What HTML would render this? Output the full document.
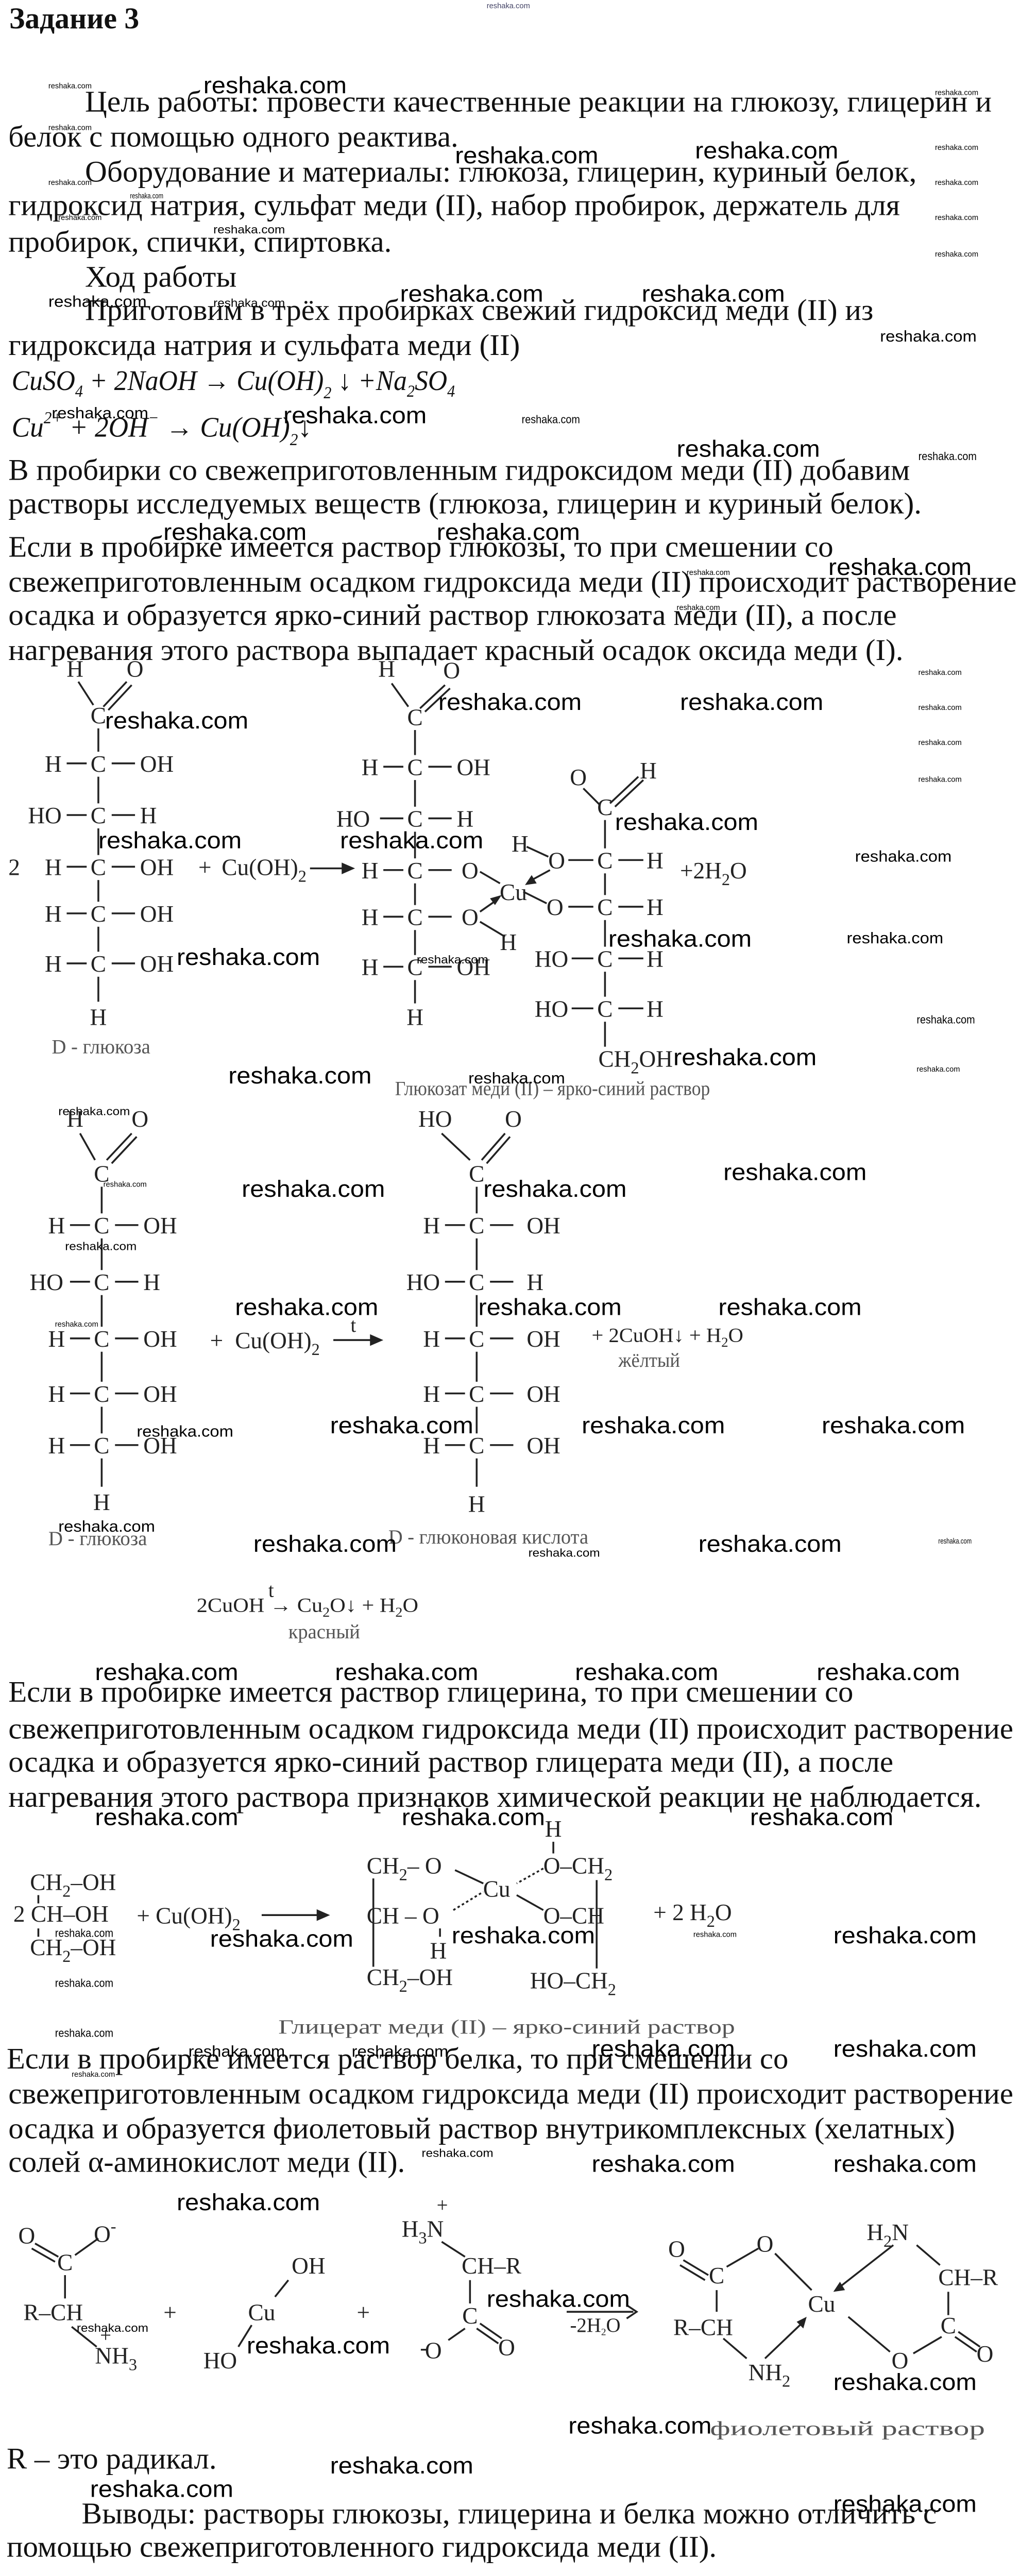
<!DOCTYPE html>
<html><head><meta charset="utf-8">
<style>
html,body{margin:0;padding:0;background:#fff;width:1980px;height:5042px;overflow:hidden;}
svg{display:block;}
.b{font-family:"Liberation Serif",serif;font-size:18px;fill:#111;}
.h{font-family:"Liberation Serif",serif;font-size:18px;font-weight:bold;fill:#111;}
.e{font-family:"Liberation Serif",serif;font-size:17px;font-style:italic;fill:#111;}
.c{font-family:"Liberation Serif",serif;font-size:14px;fill:#222;}
.cs{font-family:"Liberation Serif",serif;font-size:12px;fill:#222;}
.g{font-family:"Liberation Serif",serif;font-size:12px;fill:#555;}
.L{font-family:"Liberation Sans",sans-serif;font-size:14px;fill:#000;}
.M{font-family:"Liberation Sans",sans-serif;font-size:9.5px;fill:#000;}
.S{font-family:"Liberation Sans",sans-serif;font-size:7px;fill:#000;}
.T{font-family:"Liberation Sans",sans-serif;font-size:4.5px;fill:#000;}
line,path{stroke:#222;stroke-width:1.1;fill:none;}
.ah{fill:#222;stroke:none;}
</style></head>
<body>
<svg width="1980" height="5042" viewBox="0 0 612 1558.5" xmlns="http://www.w3.org/2000/svg">
<rect width="612" height="1558.5" fill="#fff"/>
<text x="292" y="5" class="T" textLength="26" lengthAdjust="spacingAndGlyphs" style="fill:#446">reshaka.com</text>
<text x="5.5" y="17" class="h" textLength="78" lengthAdjust="spacingAndGlyphs">Задание 3</text>

<g transform="translate(0,-3)">
<text x="51" y="70" class="b" textLength="544" lengthAdjust="spacingAndGlyphs">Цель работы: провести качественные реакции на глюкозу, глицерин и</text>
<text x="5" y="91" class="b" textLength="270" lengthAdjust="spacingAndGlyphs">белок с помощью одного реактива.</text>
<text x="51" y="112" class="b" textLength="499" lengthAdjust="spacingAndGlyphs">Оборудование и материалы: глюкоза, глицерин, куриный белок,</text>
<text x="5" y="132" class="b" textLength="535" lengthAdjust="spacingAndGlyphs">гидроксид натрия, сульфат меди (II), набор пробирок, держатель для</text>
<text x="5" y="154" class="b" textLength="230" lengthAdjust="spacingAndGlyphs">пробирок, спички, спиртовка.</text>
<text x="51" y="175" class="b" textLength="91" lengthAdjust="spacingAndGlyphs">Ход работы</text>
<text x="51" y="195" class="b" textLength="473" lengthAdjust="spacingAndGlyphs">Приготовим в трёх пробирках свежий гидроксид меди (II) из</text>
<text x="5" y="216" class="b" textLength="307" lengthAdjust="spacingAndGlyphs">гидроксида натрия и сульфата меди (II)</text>
<text x="7" y="237" class="e" textLength="266" lengthAdjust="spacingAndGlyphs">CuSO<tspan font-size="10" dy="4">4</tspan><tspan dy="-4"> + 2NaOH → Cu(OH)</tspan><tspan font-size="10" dy="5">2</tspan><tspan dy="-5"> ↓ +Na</tspan><tspan font-size="10" dy="4">2</tspan><tspan dy="-4">SO</tspan><tspan font-size="10" dy="4">4</tspan></text>
<text x="7" y="265" class="e" textLength="180" lengthAdjust="spacingAndGlyphs">Cu<tspan font-size="10" dy="-8">2+</tspan><tspan dy="8"> + 2OH</tspan><tspan font-size="10" dy="-8">−</tspan><tspan dy="8"> → Cu(OH)</tspan><tspan font-size="10" dy="5">2</tspan><tspan dy="-5">↓</tspan></text>
<text x="5" y="291" class="b" textLength="541" lengthAdjust="spacingAndGlyphs">В пробирки со свежеприготовленным гидроксидом меди (II) добавим</text>
<text x="5" y="311" class="b" textLength="548" lengthAdjust="spacingAndGlyphs">растворы исследуемых веществ (глюкоза, глицерин и куриный белок).</text>
<text x="5" y="337" class="b" textLength="495" lengthAdjust="spacingAndGlyphs">Если в пробирке имеется раствор глюкозы, то при смешении со</text>
<text x="5" y="358" class="b" textLength="605" lengthAdjust="spacingAndGlyphs">свежеприготовленным осадком гидроксида меди (II) происходит растворение</text>
<text x="5" y="378" class="b" textLength="533" lengthAdjust="spacingAndGlyphs">осадка и образуется ярко-синий раствор глюкозата меди (II), а после</text>
<text x="5" y="399" class="b" textLength="537" lengthAdjust="spacingAndGlyphs">нагревания этого раствора выпадает красный осадок оксида меди (I).</text>

<text x="122" y="59" class="L" textLength="86" lengthAdjust="spacingAndGlyphs">reshaka.com</text>
<text x="29" y="56" class="T" textLength="26" lengthAdjust="spacingAndGlyphs">reshaka.com</text>
<text x="561" y="60" class="T" textLength="26" lengthAdjust="spacingAndGlyphs">reshaka.com</text>
<text x="29" y="81" class="T" textLength="26" lengthAdjust="spacingAndGlyphs">reshaka.com</text>
<text x="273" y="101" class="L" textLength="86" lengthAdjust="spacingAndGlyphs">reshaka.com</text>
<text x="417" y="98" class="L" textLength="86" lengthAdjust="spacingAndGlyphs">reshaka.com</text>
<text x="561" y="93" class="T" textLength="26" lengthAdjust="spacingAndGlyphs">reshaka.com</text>
<text x="29" y="114" class="T" textLength="26" lengthAdjust="spacingAndGlyphs">reshaka.com</text>
<text x="561" y="114" class="T" textLength="26" lengthAdjust="spacingAndGlyphs">reshaka.com</text>
<text x="78" y="122" class="T" textLength="20" lengthAdjust="spacingAndGlyphs">reshaka.com</text>
<text x="35" y="135" class="T" textLength="26" lengthAdjust="spacingAndGlyphs">reshaka.com</text>
<text x="561" y="135" class="T" textLength="26" lengthAdjust="spacingAndGlyphs">reshaka.com</text>
<text x="128" y="143" class="S" textLength="43" lengthAdjust="spacingAndGlyphs">reshaka.com</text>
<text x="561" y="157" class="T" textLength="26" lengthAdjust="spacingAndGlyphs">reshaka.com</text>
<text x="240" y="184" class="L" textLength="86" lengthAdjust="spacingAndGlyphs">reshaka.com</text>
<text x="385" y="184" class="L" textLength="86" lengthAdjust="spacingAndGlyphs">reshaka.com</text>
<text x="29" y="187" class="M" textLength="59" lengthAdjust="spacingAndGlyphs">reshaka.com</text>
<text x="128" y="187" class="S" textLength="43" lengthAdjust="spacingAndGlyphs">reshaka.com</text>
<text x="528" y="208" class="M" textLength="58" lengthAdjust="spacingAndGlyphs">reshaka.com</text>
<text x="31" y="254" class="M" textLength="58" lengthAdjust="spacingAndGlyphs">reshaka.com</text>
<text x="170" y="257" class="L" textLength="86" lengthAdjust="spacingAndGlyphs">reshaka.com</text>
<text x="313" y="257" class="S" textLength="35" lengthAdjust="spacingAndGlyphs">reshaka.com</text>
<text x="406" y="277" class="L" textLength="86" lengthAdjust="spacingAndGlyphs">reshaka.com</text>
<text x="551" y="279" class="S" textLength="35" lengthAdjust="spacingAndGlyphs">reshaka.com</text>
<text x="98" y="327" class="L" textLength="86" lengthAdjust="spacingAndGlyphs">reshaka.com</text>
<text x="262" y="327" class="L" textLength="86" lengthAdjust="spacingAndGlyphs">reshaka.com</text>
<text x="497" y="348" class="L" textLength="86" lengthAdjust="spacingAndGlyphs">reshaka.com</text>
<text x="412" y="348" class="T" textLength="26" lengthAdjust="spacingAndGlyphs">reshaka.com</text>
<text x="406" y="369" class="T" textLength="26" lengthAdjust="spacingAndGlyphs">reshaka.com</text>
</g>

<g transform="translate(0,-10)">
<text x="45" y="416" class="c" text-anchor="middle">H</text>
<text x="81" y="416" class="c" text-anchor="middle">O</text>
<line x1="47" y1="419" x2="56" y2="433"/>
<line x1="76" y1="419" x2="62" y2="434"/><line x1="79" y1="421" x2="65" y2="436"/>
<text x="59" y="444" class="c" text-anchor="middle">C</text>
<line x1="59" y1="447" x2="59" y2="461"/>
<text x="37" y="473" class="c" text-anchor="end">H</text><line x1="40" y1="468" x2="52" y2="468"/><text x="59" y="473" class="c" text-anchor="middle">C</text><line x1="67" y1="468" x2="81" y2="468"/><text x="84" y="473" class="c">OH</text>
<line x1="59" y1="476" x2="59" y2="492"/>
<text x="37" y="504" class="c" text-anchor="end">HO</text><line x1="40" y1="499" x2="52" y2="499"/><text x="59" y="504" class="c" text-anchor="middle">C</text><line x1="67" y1="499" x2="81" y2="499"/><text x="84" y="504" class="c">H</text>
<line x1="59" y1="507" x2="59" y2="523"/>
<text x="37" y="535" class="c" text-anchor="end">H</text><line x1="40" y1="530" x2="52" y2="530"/><text x="59" y="535" class="c" text-anchor="middle">C</text><line x1="67" y1="530" x2="81" y2="530"/><text x="84" y="535" class="c">OH</text>
<line x1="59" y1="538" x2="59" y2="551"/>
<text x="37" y="563" class="c" text-anchor="end">H</text><line x1="40" y1="558" x2="52" y2="558"/><text x="59" y="563" class="c" text-anchor="middle">C</text><line x1="67" y1="558" x2="81" y2="558"/><text x="84" y="563" class="c">OH</text>
<line x1="59" y1="566" x2="59" y2="581"/>
<text x="37" y="593" class="c" text-anchor="end">H</text><line x1="40" y1="588" x2="52" y2="588"/><text x="59" y="593" class="c" text-anchor="middle">C</text><line x1="67" y1="588" x2="81" y2="588"/><text x="84" y="593" class="c">OH</text>
<line x1="59" y1="596" x2="59" y2="611"/>
<text x="59" y="625" class="c" text-anchor="middle">H</text>
<text x="31" y="642" class="g">D - глюкоза</text>
<text x="5" y="535" class="c">2</text>
<text x="119" y="535" class="c">+</text>
<text x="133" y="535" class="c">Cu(OH)<tspan font-size="10" dy="4">2</tspan></text>
<line x1="186" y1="531" x2="207" y2="531"/><path class="ah" d="M213,531 L205,527.5 L205,534.5 Z"/>

<text x="232" y="416" class="c" text-anchor="middle">H</text>
<text x="271" y="417" class="c" text-anchor="middle">O</text>
<line x1="235" y1="420" x2="245" y2="434"/>
<line x1="267" y1="421" x2="252" y2="435"/><line x1="270" y1="423" x2="255" y2="437"/>
<text x="249" y="445" class="c" text-anchor="middle">C</text>
<line x1="249" y1="448" x2="249" y2="463"/>
<text x="227" y="475" class="c" text-anchor="end">H</text><line x1="230" y1="470" x2="242" y2="470"/><text x="249" y="475" class="c" text-anchor="middle">C</text><line x1="257" y1="470" x2="271" y2="470"/><text x="274" y="475" class="c">OH</text>
<line x1="249" y1="478" x2="249" y2="494"/>
<text x="222" y="506" class="c" text-anchor="end">HO</text><line x1="228" y1="501" x2="242" y2="501"/><text x="249" y="506" class="c" text-anchor="middle">C</text><line x1="257" y1="501" x2="271" y2="501"/><text x="274" y="506" class="c">H</text>
<line x1="249" y1="509" x2="249" y2="525"/>
<text x="227" y="537" class="c" text-anchor="end">H</text><line x1="230" y1="532" x2="242" y2="532"/><text x="249" y="537" class="c" text-anchor="middle">C</text><line x1="257" y1="532" x2="271" y2="532"/><text x="282" y="537" class="c" text-anchor="middle">O</text>
<line x1="249" y1="540" x2="249" y2="553"/>
<text x="227" y="565" class="c" text-anchor="end">H</text><line x1="230" y1="560" x2="242" y2="560"/><text x="249" y="565" class="c" text-anchor="middle">C</text><line x1="257" y1="560" x2="271" y2="560"/><text x="282" y="565" class="c" text-anchor="middle">O</text>
<line x1="249" y1="568" x2="249" y2="583"/>
<text x="227" y="595" class="c" text-anchor="end">H</text><line x1="230" y1="590" x2="242" y2="590"/><text x="249" y="595" class="c" text-anchor="middle">C</text><line x1="257" y1="590" x2="271" y2="590"/><text x="274" y="595" class="c">OH</text>
<line x1="249" y1="598" x2="249" y2="612"/>
<text x="249" y="625" class="c" text-anchor="middle">H</text>
<text x="308" y="550" class="c" text-anchor="middle">Cu</text>
<line x1="288" y1="533" x2="300" y2="540"/>
<line x1="288" y1="563" x2="303" y2="572"/>
<text x="305" y="580" class="c" text-anchor="middle">H</text>
<line x1="288" y1="557" x2="298" y2="550"/><path class="ah" d="M301,547 L294,549 L297,553 Z"/>
<text x="347" y="481" class="c" text-anchor="middle">O</text>
<text x="389" y="477" class="c" text-anchor="middle">H</text>
<line x1="350" y1="483" x2="360" y2="493"/>
<line x1="366" y1="492" x2="383" y2="476"/><line x1="369" y1="494" x2="386" y2="478"/>
<text x="363" y="499" class="c" text-anchor="middle">C</text>
<line x1="363" y1="502" x2="363" y2="519"/>
<text x="312" y="521" class="c" text-anchor="middle">H</text>
<line x1="316" y1="518" x2="329" y2="524"/>
<text x="334" y="531" class="c" text-anchor="middle">O</text><line x1="341" y1="526" x2="356" y2="526"/><text x="363" y="531" class="c" text-anchor="middle">C</text><line x1="371" y1="526" x2="386" y2="526"/><text x="393" y="531" class="c" text-anchor="middle">H</text>
<line x1="330" y1="532" x2="319" y2="538"/><path class="ah" d="M315,541 L322,540 L319,535 Z"/>
<line x1="363" y1="534" x2="363" y2="547"/>
<line x1="314" y1="545" x2="328" y2="552"/>
<text x="333" y="559" class="c" text-anchor="middle">O</text><line x1="341" y1="554" x2="356" y2="554"/><text x="363" y="559" class="c" text-anchor="middle">C</text><line x1="371" y1="554" x2="386" y2="554"/><text x="393" y="559" class="c" text-anchor="middle">H</text>
<line x1="363" y1="562" x2="363" y2="578"/>
<text x="341" y="590" class="c" text-anchor="end">HO</text><line x1="343" y1="585" x2="356" y2="585"/><text x="363" y="590" class="c" text-anchor="middle">C</text><line x1="371" y1="585" x2="386" y2="585"/><text x="393" y="590" class="c" text-anchor="middle">H</text>
<line x1="363" y1="593" x2="363" y2="608"/>
<text x="341" y="620" class="c" text-anchor="end">HO</text><line x1="343" y1="615" x2="356" y2="615"/><text x="363" y="620" class="c" text-anchor="middle">C</text><line x1="371" y1="615" x2="386" y2="615"/><text x="393" y="620" class="c" text-anchor="middle">H</text>
<line x1="363" y1="623" x2="363" y2="638"/>
<text x="359" y="650" class="c">CH<tspan font-size="10" dy="4">2</tspan><tspan dy="-4">OH</tspan></text>
<text x="408" y="537" class="c">+2H<tspan font-size="10" dy="4">2</tspan><tspan dy="-4">O</tspan></text>
<text x="237" y="667" class="g" textLength="189" lengthAdjust="spacingAndGlyphs">Глюкозат меди (II) – ярко-синий раствор</text>

<text x="551" y="415" class="T" textLength="26" lengthAdjust="spacingAndGlyphs">reshaka.com</text>
<text x="263" y="436" class="L" textLength="86" lengthAdjust="spacingAndGlyphs">reshaka.com</text>
<text x="408" y="436" class="L" textLength="86" lengthAdjust="spacingAndGlyphs">reshaka.com</text>
<text x="551" y="436" class="T" textLength="26" lengthAdjust="spacingAndGlyphs">reshaka.com</text>
<text x="63" y="447" class="L" textLength="86" lengthAdjust="spacingAndGlyphs">reshaka.com</text>
<text x="551" y="457" class="T" textLength="26" lengthAdjust="spacingAndGlyphs">reshaka.com</text>
<text x="551" y="479" class="T" textLength="26" lengthAdjust="spacingAndGlyphs">reshaka.com</text>
<text x="369" y="508" class="L" textLength="86" lengthAdjust="spacingAndGlyphs">reshaka.com</text>
<text x="59" y="519" class="L" textLength="86" lengthAdjust="spacingAndGlyphs">reshaka.com</text>
<text x="204" y="519" class="L" textLength="86" lengthAdjust="spacingAndGlyphs">reshaka.com</text>
<text x="513" y="527" class="M" textLength="58" lengthAdjust="spacingAndGlyphs">reshaka.com</text>
<text x="365" y="578" class="L" textLength="86" lengthAdjust="spacingAndGlyphs">reshaka.com</text>
<text x="508" y="576" class="M" textLength="58" lengthAdjust="spacingAndGlyphs">reshaka.com</text>
<text x="106" y="589" class="L" textLength="86" lengthAdjust="spacingAndGlyphs">reshaka.com</text>
<text x="250" y="588" class="S" textLength="43" lengthAdjust="spacingAndGlyphs">reshaka.com</text>
<text x="550" y="624" class="S" textLength="35" lengthAdjust="spacingAndGlyphs">reshaka.com</text>
<text x="404" y="649" class="L" textLength="86" lengthAdjust="spacingAndGlyphs">reshaka.com</text>
<text x="550" y="653" class="T" textLength="26" lengthAdjust="spacingAndGlyphs">reshaka.com</text>
<text x="137" y="660" class="L" textLength="86" lengthAdjust="spacingAndGlyphs">reshaka.com</text>
<text x="281" y="660" class="M" textLength="58" lengthAdjust="spacingAndGlyphs">reshaka.com</text>
<text x="35" y="679" class="S" textLength="43" lengthAdjust="spacingAndGlyphs">reshaka.com</text>
</g>

<g transform="translate(0,-11)">
<text x="45" y="687" class="c" text-anchor="middle">H</text>
<text x="84" y="687" class="c" text-anchor="middle">O</text>
<line x1="48" y1="691" x2="57" y2="707"/>
<line x1="79" y1="691" x2="64" y2="707"/><line x1="82" y1="693" x2="67" y2="709"/>
<text x="61" y="720" class="c" text-anchor="middle">C</text>
<line x1="61" y1="723" x2="61" y2="739"/>
<text x="39" y="751" class="c" text-anchor="end">H</text><line x1="42" y1="746" x2="54" y2="746"/><text x="61" y="751" class="c" text-anchor="middle">C</text><line x1="69" y1="746" x2="83" y2="746"/><text x="86" y="751" class="c">OH</text>
<line x1="61" y1="754" x2="61" y2="773"/>
<text x="38" y="785" class="c" text-anchor="end">HO</text><line x1="42" y1="780" x2="54" y2="780"/><text x="61" y="785" class="c" text-anchor="middle">C</text><line x1="69" y1="780" x2="83" y2="780"/><text x="86" y="785" class="c">H</text>
<line x1="61" y1="788" x2="61" y2="807"/>
<text x="39" y="819" class="c" text-anchor="end">H</text><line x1="42" y1="814" x2="54" y2="814"/><text x="61" y="819" class="c" text-anchor="middle">C</text><line x1="69" y1="814" x2="83" y2="814"/><text x="86" y="819" class="c">OH</text>
<line x1="61" y1="822" x2="61" y2="840"/>
<text x="39" y="852" class="c" text-anchor="end">H</text><line x1="42" y1="847" x2="54" y2="847"/><text x="61" y="852" class="c" text-anchor="middle">C</text><line x1="69" y1="847" x2="83" y2="847"/><text x="86" y="852" class="c">OH</text>
<line x1="61" y1="855" x2="61" y2="871"/>
<text x="39" y="883" class="c" text-anchor="end">H</text><line x1="42" y1="878" x2="54" y2="878"/><text x="61" y="883" class="c" text-anchor="middle">C</text><line x1="69" y1="878" x2="83" y2="878"/><text x="86" y="883" class="c">OH</text>
<line x1="61" y1="886" x2="61" y2="903"/>
<text x="61" y="917" class="c" text-anchor="middle">H</text>
<text x="29" y="938" class="g">D - глюкоза</text>
<text x="126" y="820" class="c">+</text>
<text x="141" y="820" class="c">Cu(OH)<tspan font-size="10" dy="4">2</tspan></text>
<line x1="200" y1="815" x2="224" y2="815"/><path class="ah" d="M230,815 L222,811.5 L222,818.5 Z"/>
<text x="212" y="810" class="cs" text-anchor="middle" font-size="9">t</text>
<text x="251" y="687" class="c">HO</text>
<text x="308" y="687" class="c" text-anchor="middle">O</text>
<line x1="265" y1="691" x2="282" y2="707"/>
<line x1="303" y1="691" x2="289" y2="707"/><line x1="306" y1="693" x2="292" y2="709"/>
<text x="286" y="720" class="c" text-anchor="middle">C</text>
<line x1="286" y1="723" x2="286" y2="739"/>
<text x="264" y="751" class="c" text-anchor="end">H</text><line x1="267" y1="746" x2="279" y2="746"/><text x="286" y="751" class="c" text-anchor="middle">C</text><line x1="294" y1="746" x2="308" y2="746"/><text x="316" y="751" class="c">OH</text>
<line x1="286" y1="754" x2="286" y2="773"/>
<text x="264" y="785" class="c" text-anchor="end">HO</text><line x1="267" y1="780" x2="279" y2="780"/><text x="286" y="785" class="c" text-anchor="middle">C</text><line x1="294" y1="780" x2="308" y2="780"/><text x="316" y="785" class="c">H</text>
<line x1="286" y1="788" x2="286" y2="807"/>
<text x="264" y="819" class="c" text-anchor="end">H</text><line x1="267" y1="814" x2="279" y2="814"/><text x="286" y="819" class="c" text-anchor="middle">C</text><line x1="294" y1="814" x2="308" y2="814"/><text x="316" y="819" class="c">OH</text>
<line x1="286" y1="822" x2="286" y2="840"/>
<text x="264" y="852" class="c" text-anchor="end">H</text><line x1="267" y1="847" x2="279" y2="847"/><text x="286" y="852" class="c" text-anchor="middle">C</text><line x1="294" y1="847" x2="308" y2="847"/><text x="316" y="852" class="c">OH</text>
<line x1="286" y1="855" x2="286" y2="871"/>
<text x="264" y="883" class="c" text-anchor="end">H</text><line x1="267" y1="878" x2="279" y2="878"/><text x="286" y="883" class="c" text-anchor="middle">C</text><line x1="294" y1="878" x2="308" y2="878"/><text x="316" y="883" class="c">OH</text>
<line x1="286" y1="886" x2="286" y2="903"/>
<text x="286" y="918" class="c" text-anchor="middle">H</text>
<text x="233" y="937" class="g" textLength="120" lengthAdjust="spacingAndGlyphs">D - глюконовая кислота</text>
<text x="355" y="816" class="cs" textLength="91" lengthAdjust="spacingAndGlyphs">+ 2CuOH↓ + H<tspan font-size="8" dy="3">2</tspan><tspan dy="-3">O</tspan></text>
<text x="371" y="831" class="g" font-size="10" textLength="37" lengthAdjust="spacingAndGlyphs">жёлтый</text>
<text x="118" y="978" class="cs" textLength="133" lengthAdjust="spacingAndGlyphs">2CuOH <tspan>→</tspan> Cu<tspan font-size="8" dy="3">2</tspan><tspan dy="-3">O↓ + H</tspan><tspan font-size="8" dy="3">2</tspan><tspan dy="-3">O</tspan></text>
<text x="161" y="969" class="cs" font-size="8">t</text>
<text x="173" y="994" class="g" font-size="10" textLength="43" lengthAdjust="spacingAndGlyphs">красный</text>

<text x="62" y="723" class="T" textLength="26" lengthAdjust="spacingAndGlyphs">reshaka.com</text>
<text x="145" y="729" class="L" textLength="86" lengthAdjust="spacingAndGlyphs">reshaka.com</text>
<text x="290" y="729" class="L" textLength="86" lengthAdjust="spacingAndGlyphs">reshaka.com</text>
<text x="434" y="719" class="L" textLength="86" lengthAdjust="spacingAndGlyphs">reshaka.com</text>
<text x="39" y="761" class="S" textLength="43" lengthAdjust="spacingAndGlyphs">reshaka.com</text>
<text x="141" y="800" class="L" textLength="86" lengthAdjust="spacingAndGlyphs">reshaka.com</text>
<text x="287" y="800" class="L" textLength="86" lengthAdjust="spacingAndGlyphs">reshaka.com</text>
<text x="431" y="800" class="L" textLength="86" lengthAdjust="spacingAndGlyphs">reshaka.com</text>
<text x="33" y="807" class="T" textLength="26" lengthAdjust="spacingAndGlyphs">reshaka.com</text>
<text x="82" y="873" class="M" textLength="58" lengthAdjust="spacingAndGlyphs">reshaka.com</text>
<text x="198" y="871" class="L" textLength="86" lengthAdjust="spacingAndGlyphs">reshaka.com</text>
<text x="349" y="871" class="L" textLength="86" lengthAdjust="spacingAndGlyphs">reshaka.com</text>
<text x="493" y="871" class="L" textLength="86" lengthAdjust="spacingAndGlyphs">reshaka.com</text>
<text x="35" y="930" class="M" textLength="58" lengthAdjust="spacingAndGlyphs">reshaka.com</text>
<text x="152" y="942" class="L" textLength="86" lengthAdjust="spacingAndGlyphs">reshaka.com</text>
<text x="317" y="945" class="S" textLength="43" lengthAdjust="spacingAndGlyphs">reshaka.com</text>
<text x="419" y="942" class="L" textLength="86" lengthAdjust="spacingAndGlyphs">reshaka.com</text>
<text x="563" y="937" class="T" textLength="20" lengthAdjust="spacingAndGlyphs">reshaka.com</text>
</g>

<g transform="translate(0,-4)">
<text x="57" y="1012" class="L" textLength="86" lengthAdjust="spacingAndGlyphs">reshaka.com</text>
<text x="201" y="1012" class="L" textLength="86" lengthAdjust="spacingAndGlyphs">reshaka.com</text>
<text x="345" y="1012" class="L" textLength="86" lengthAdjust="spacingAndGlyphs">reshaka.com</text>
<text x="490" y="1012" class="L" textLength="86" lengthAdjust="spacingAndGlyphs">reshaka.com</text>
</g>

<g transform="translate(0,-15)">
<text x="5" y="1036" class="b" textLength="507" lengthAdjust="spacingAndGlyphs">Если в пробирке имеется раствор глицерина, то при смешении со</text>
<text x="5" y="1058" class="b" textLength="603" lengthAdjust="spacingAndGlyphs">свежеприготовленным осадком гидроксида меди (II) происходит растворение</text>
<text x="5" y="1078" class="b" textLength="531" lengthAdjust="spacingAndGlyphs">осадка и образуется ярко-синий раствор глицерата меди (II), а после</text>
<text x="5" y="1099" class="b" textLength="584" lengthAdjust="spacingAndGlyphs">нагревания этого раствора признаков химической реакции не наблюдается.</text>

<text x="18" y="1149" class="c">CH<tspan font-size="10" dy="4">2</tspan><tspan dy="-4">–OH</tspan></text>
<line x1="23" y1="1152" x2="23" y2="1157"/>
<text x="8" y="1168" class="c">2 CH–OH</text>
<line x1="23" y1="1172" x2="23" y2="1177"/>
<text x="18" y="1188" class="c">CH<tspan font-size="10" dy="4">2</tspan><tspan dy="-4">–OH</tspan></text>
<text x="82" y="1169" class="c">+  Cu(OH)<tspan font-size="10" dy="4">2</tspan></text>
<line x1="157" y1="1164" x2="192" y2="1164"/><path class="ah" d="M198,1164 L190,1160.5 L190,1167.5 Z"/>
<text x="220" y="1139" class="c">CH<tspan font-size="10" dy="4">2</tspan><tspan dy="-4">– O</tspan></text>
<text x="220" y="1169" class="c">CH – O</text>
<line x1="264" y1="1172" x2="264" y2="1177"/>
<text x="263" y="1190" class="c" text-anchor="middle">H</text>
<text x="220" y="1206" class="c">CH<tspan font-size="10" dy="4">2</tspan><tspan dy="-4">–OH</tspan></text>
<line x1="224" y1="1142" x2="224" y2="1195"/>
<text x="298" y="1153" class="c" text-anchor="middle">Cu</text>
<line x1="273" y1="1137" x2="290" y2="1145"/>
<line x1="310" y1="1152" x2="326" y2="1161"/>
<path d="M326,1136 L310,1145" stroke-dasharray="1.5,1.5"/>
<path d="M272,1161 L290,1150" stroke-dasharray="1.5,1.5"/>
<text x="332" y="1117" class="c" text-anchor="middle">H</text>
<line x1="332" y1="1120" x2="332" y2="1127"/>
<text x="326" y="1139" class="c">O–CH<tspan font-size="10" dy="4">2</tspan></text>
<text x="326" y="1169" class="c">O–CH</text>
<line x1="358" y1="1143" x2="358" y2="1196"/>
<text x="318" y="1208" class="c">HO–CH<tspan font-size="10" dy="4">2</tspan></text>
<text x="392" y="1167" class="c">+ 2 H<tspan font-size="10" dy="4">2</tspan><tspan dy="-4">O</tspan></text>
<text x="167" y="1235" class="g" font-size="14" textLength="274" lengthAdjust="spacingAndGlyphs">Глицерат меди (II) – ярко-синий раствор</text>

<text x="57" y="1110" class="L" textLength="86" lengthAdjust="spacingAndGlyphs">reshaka.com</text>
<text x="241" y="1110" class="L" textLength="86" lengthAdjust="spacingAndGlyphs">reshaka.com</text>
<text x="450" y="1110" class="L" textLength="86" lengthAdjust="spacingAndGlyphs">reshaka.com</text>
<text x="33" y="1177" class="S" textLength="35" lengthAdjust="spacingAndGlyphs">reshaka.com</text>
<text x="126" y="1183" class="L" textLength="86" lengthAdjust="spacingAndGlyphs">reshaka.com</text>
<text x="271" y="1181" class="L" textLength="86" lengthAdjust="spacingAndGlyphs">reshaka.com</text>
<text x="416" y="1177" class="T" textLength="26" lengthAdjust="spacingAndGlyphs">reshaka.com</text>
<text x="500" y="1181" class="L" textLength="86" lengthAdjust="spacingAndGlyphs">reshaka.com</text>
<text x="33" y="1207" class="S" textLength="35" lengthAdjust="spacingAndGlyphs">reshaka.com</text>
<text x="33" y="1237" class="S" textLength="35" lengthAdjust="spacingAndGlyphs">reshaka.com</text>
</g>

<g transform="translate(0,-21)">
<text x="4" y="1262" class="b" textLength="469" lengthAdjust="spacingAndGlyphs">Если в пробирке имеется раствор белка, то при смешении со</text>
<text x="5" y="1283" class="b" textLength="603" lengthAdjust="spacingAndGlyphs">свежеприготовленным осадком гидроксида меди (II) происходит растворение</text>
<text x="5" y="1304" class="b" textLength="568" lengthAdjust="spacingAndGlyphs">осадка и образуется фиолетовый раствор внутрикомплексных (хелатных)</text>
<text x="5" y="1324" class="b" textLength="238" lengthAdjust="spacingAndGlyphs">солей α-аминокислот меди (II).</text>
<text x="113" y="1255" class="M" textLength="58" lengthAdjust="spacingAndGlyphs">reshaka.com</text>
<text x="211" y="1255" class="M" textLength="58" lengthAdjust="spacingAndGlyphs">reshaka.com</text>
<text x="355" y="1255" class="L" textLength="86" lengthAdjust="spacingAndGlyphs">reshaka.com</text>
<text x="500" y="1255" class="L" textLength="86" lengthAdjust="spacingAndGlyphs">reshaka.com</text>
<text x="43" y="1267" class="T" textLength="26" lengthAdjust="spacingAndGlyphs">reshaka.com</text>
<text x="253" y="1315" class="S" textLength="43" lengthAdjust="spacingAndGlyphs">reshaka.com</text>
<text x="355" y="1324" class="L" textLength="86" lengthAdjust="spacingAndGlyphs">reshaka.com</text>
<text x="500" y="1324" class="L" textLength="86" lengthAdjust="spacingAndGlyphs">reshaka.com</text>
</g>

<g transform="translate(0,-9)">
<text x="106" y="1335" class="L" textLength="86" lengthAdjust="spacingAndGlyphs">reshaka.com</text>
<text x="16" y="1355" class="c" text-anchor="middle">O</text>
<text x="63" y="1354" class="c" text-anchor="middle">O<tspan font-size="10" dy="-6">-</tspan></text>
<line x1="19" y1="1358" x2="33" y2="1366"/><line x1="21" y1="1355" x2="35" y2="1363"/>
<text x="39" y="1371" class="c" text-anchor="middle">C</text>
<line x1="45" y1="1362" x2="59" y2="1352"/>
<line x1="39" y1="1374" x2="39" y2="1388"/>
<text x="14" y="1401" class="c">R–CH</text>
<line x1="43" y1="1405" x2="58" y2="1417"/>
<text x="60" y="1414" class="cs" font-size="10">+</text>
<text x="57" y="1427" class="c">NH<tspan font-size="10" dy="4">3</tspan></text>
<text x="102" y="1401" class="c" text-anchor="middle">+</text>
<text x="175" y="1373" class="c">OH</text>
<line x1="173" y1="1377" x2="165" y2="1387"/>
<text x="157" y="1401" class="c" text-anchor="middle">Cu</text>
<line x1="151" y1="1404" x2="143" y2="1417"/>
<text x="122" y="1430" class="c">HO</text>
<text x="218" y="1401" class="c" text-anchor="middle">+</text>
<text x="262" y="1336" class="cs" font-size="10">+</text>
<text x="241" y="1351" class="c">H<tspan font-size="10" dy="4">3</tspan><tspan dy="-4">N</tspan></text>
<line x1="265" y1="1354" x2="279" y2="1363"/>
<text x="277" y="1373" class="c">CH–R</text>
<line x1="282" y1="1377" x2="282" y2="1391"/>
<text x="282" y="1403" class="c" text-anchor="middle">C</text>
<line x1="279" y1="1406" x2="269" y2="1413"/>
<line x1="286" y1="1406" x2="299" y2="1415"/><line x1="288" y1="1403" x2="301" y2="1412"/>
<text x="252" y="1422" class="c">-</text><text x="260" y="1424" class="c" text-anchor="middle">O</text>
<text x="304" y="1422" class="c" text-anchor="middle">O</text>
<line x1="340" y1="1396" x2="380" y2="1396"/><path d="M376,1392 L382,1396 L376,1400"/>
<text x="342" y="1408" class="cs" font-size="8">-2H<tspan font-size="6" dy="2">2</tspan><tspan dy="-2">O</tspan></text>
<text x="406" y="1363" class="c" text-anchor="middle">O</text>
<line x1="410" y1="1365" x2="425" y2="1374"/><line x1="408" y1="1368" x2="423" y2="1377"/>
<text x="430" y="1379" class="c" text-anchor="middle">C</text>
<line x1="436" y1="1369" x2="455" y2="1358"/>
<text x="459" y="1360" class="c" text-anchor="middle">O</text>
<line x1="465" y1="1361" x2="487" y2="1383"/>
<line x1="430" y1="1383" x2="430" y2="1396"/>
<text x="404" y="1410" class="c">R–CH</text>
<line x1="434" y1="1412" x2="448" y2="1424"/>
<text x="449" y="1437" class="c">NH<tspan font-size="10" dy="4">2</tspan></text>
<line x1="459" y1="1424" x2="481" y2="1403"/><path class="ah" d="M484,1399 L478,1402 L482,1406 Z"/>
<text x="493" y="1396" class="c" text-anchor="middle">Cu</text>
<text x="520" y="1353" class="c">H<tspan font-size="10" dy="4">2</tspan><tspan dy="-4">N</tspan></text>
<line x1="536" y1="1356" x2="504" y2="1381"/><path class="ah" d="M500,1384 L504,1378 L507,1383 Z"/>
<line x1="550" y1="1356" x2="564" y2="1368"/>
<text x="563" y="1380" class="c">CH–R</text>
<line x1="569" y1="1384" x2="569" y2="1398"/>
<text x="569" y="1409" class="c" text-anchor="middle">C</text>
<line x1="573" y1="1411" x2="586" y2="1420"/><line x1="575" y1="1408" x2="588" y2="1417"/>
<text x="591" y="1426" class="c" text-anchor="middle">O</text>
<line x1="565" y1="1411" x2="548" y2="1421"/>
<text x="540" y="1430" class="c" text-anchor="middle">O</text>
<line x1="534" y1="1420" x2="509" y2="1399"/>
<text x="46" y="1408" class="S" textLength="43" lengthAdjust="spacingAndGlyphs">reshaka.com</text>
<text x="292" y="1393" class="L" textLength="86" lengthAdjust="spacingAndGlyphs">reshaka.com</text>
<text x="148" y="1421" class="L" textLength="86" lengthAdjust="spacingAndGlyphs">reshaka.com</text>
<text x="500" y="1443" class="L" textLength="86" lengthAdjust="spacingAndGlyphs">reshaka.com</text>
</g>

<g transform="translate(0,-5)">
<text x="426" y="1466" class="g" font-size="14" textLength="165" lengthAdjust="spacingAndGlyphs">фиолетовый раствор</text>
<text x="341" y="1465" class="L" textLength="86" lengthAdjust="spacingAndGlyphs">reshaka.com</text>
</g>

<g transform="translate(0,-8)">
<text x="4" y="1489" class="b" textLength="126" lengthAdjust="spacingAndGlyphs">R – это радикал.</text>
<text x="198" y="1492" class="L" textLength="86" lengthAdjust="spacingAndGlyphs">reshaka.com</text>
<text x="54" y="1506" class="L" textLength="86" lengthAdjust="spacingAndGlyphs">reshaka.com</text>
<text x="500" y="1515" class="L" textLength="86" lengthAdjust="spacingAndGlyphs">reshaka.com</text>
</g>

<g transform="translate(0,-16)">
<text x="49" y="1530" class="b" textLength="513" lengthAdjust="spacingAndGlyphs">Выводы: растворы глюкозы, глицерина и белка можно отличить с</text>
<text x="4" y="1550" class="b" textLength="426" lengthAdjust="spacingAndGlyphs">помощью свежеприготовленного гидроксида меди (II).</text>
</g>
</svg>
</body></html>
